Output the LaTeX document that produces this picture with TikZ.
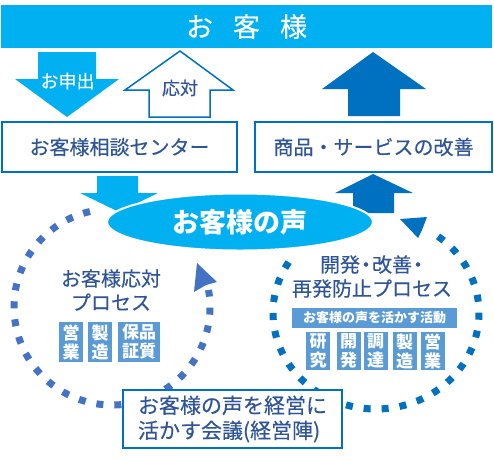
\documentclass[tikz,border=0pt]{standalone}
\usepackage{fontspec}
\setmainfont{Noto Sans CJK JP}[UprightFeatures={FakeBold=0.3}]
\usetikzlibrary{shapes.geometric}
\definecolor{sky}{HTML}{00B0F0}
\definecolor{dblue}{HTML}{0070C0}
\definecolor{tblue}{HTML}{2F5597}
\definecolor{dotblue}{HTML}{4472C4}
\definecolor{boxblue}{HTML}{5B9BD5}
\tikzset{
  labelbox/.style={draw=dblue, line width=1.5pt, fill=white, text=tblue,
    font=\fontsize{20pt}{24pt}\selectfont, inner sep=0pt},
  dotpath/.style={line width=7pt, dash pattern=on 7pt off 11pt},
  vbox/.style={fill=boxblue, text=white, font=\bfseries\fontsize{17pt}{19pt}\selectfont,
    align=center, inner sep=0pt, minimum width=24pt},
  proc/.style={text=tblue, align=center, font=\fontsize{20pt}{24pt}\selectfont, inner sep=0pt}
}
\begin{document}
\begin{tikzpicture}[x=1pt,y=-1pt]
\useasboundingbox (0,0) rectangle (494,459);
% top bar
\node[fill=sky, minimum width=491pt, minimum height=43pt, inner sep=0pt, text=white,
  font=\fontsize{27pt}{30pt}\selectfont] (cust) at (246.5,26.5) {お\hspace{20pt}客\hspace{20pt}様};
% arrows under the bar
\fill[sky] (38,52) -- (96,52) -- (96,79) -- (119,79) -- (67,117) -- (15,79) -- (38,79) -- cycle;
\node[text=white, font=\fontsize{18pt}{20pt}\selectfont, inner sep=0pt] (req) at (67.5,81) {お申出};
\draw[dblue, line width=1.5pt, fill=white] (180,51) -- (233,90) -- (210,90) -- (210,117) -- (149,117) -- (149,90) -- (125,90) -- cycle;
\node[text=tblue, font=\fontsize{18pt}{20pt}\selectfont, inner sep=0pt] (resp) at (180,88) {応対};
\fill[dblue] (373,52) -- (426,89) -- (400,89) -- (400,116) -- (348,116) -- (348,89) -- (322,89) -- cycle;
% boxes
\node[labelbox, minimum width=235pt, minimum height=50pt] (center) at (119.5,147) {お客様相談センター};
\node[labelbox, minimum width=237pt, minimum height=50pt] (improve) at (373.5,147) {商品・サービスの改善};
% dotted loops
\draw[dotpath, dotblue] (112,307) ++(-103:98) arc[start angle=-103, end angle=-370, radius=98];
\draw[dotpath, dblue] (376,313) ++(-148:103 and 96) arc[start angle=-148, end angle=-416, x radius=103, y radius=96];
\fill[dotblue] (197,263) -- (217,282) -- (206,285) -- (194,292) -- cycle;
\fill[dblue] (400,219) -- (427,217) -- (422,230) -- (418,238) -- cycle;
% arrows to/from voice
\fill[sky] (97,176) -- (138,176) -- (138,193) -- (158,193) -- (119,212) -- (80,193) -- (97,193) -- cycle;
\fill[dblue] (373,174) -- (413,193) -- (394,193) -- (394,213) -- (353,213) -- (353,193) -- (335,193) -- cycle;
% voice ellipse
\node[ellipse, fill=sky, draw=white, line width=2pt, minimum width=266pt, minimum height=57pt,
  inner sep=0pt, text=white, font=\bfseries\fontsize{27pt}{30pt}\selectfont] (voice) at (240,222) {お客様の声};
% left process
\node[proc] (lproc) at (111,290) {お客様応対\\プロセス};
\node[vbox, minimum height=40pt] (l1) at (71,342) {営\\業};
\node[vbox, minimum height=40pt] (l2) at (100,342) {製\\造};
\node[vbox, minimum height=40pt, minimum width=42pt] (l3) at (139,342) {保品\\証質};
% right process
\node[proc] (rproc) at (372,276.5) {開発{\kern-4pt}・{\kern-4pt}改善{\kern-4pt}・{\kern-4pt}\\再発防止プロセス};
\node[fill=boxblue, text=white, font=\bfseries\fontsize{13pt}{15pt}\selectfont, inner sep=0pt,
  minimum width=165pt, minimum height=20pt] (act) at (374.5,318) {お客様の声を活かす活動};
\node[vbox, minimum height=38pt] (r1) at (318,351) {研\\究};
\node[vbox, minimum height=38pt] (r2) at (348.5,351) {開\\発};
\node[vbox, minimum height=38pt] (r3) at (375.5,351) {調\\達};
\node[vbox, minimum height=38pt] (r4) at (404.5,351) {製\\造};
\node[vbox, minimum height=38pt] (r5) at (432.5,351) {営\\業};
% meeting box
\node[labelbox, line width=2pt, minimum width=219pt, minimum height=58pt, align=left,
  font=\fontsize{21pt}{25pt}\selectfont] (meet) at (232.5,419) {お客様の声を経営に\\活かす会議(経営陣)};
\end{tikzpicture}
\end{document}
